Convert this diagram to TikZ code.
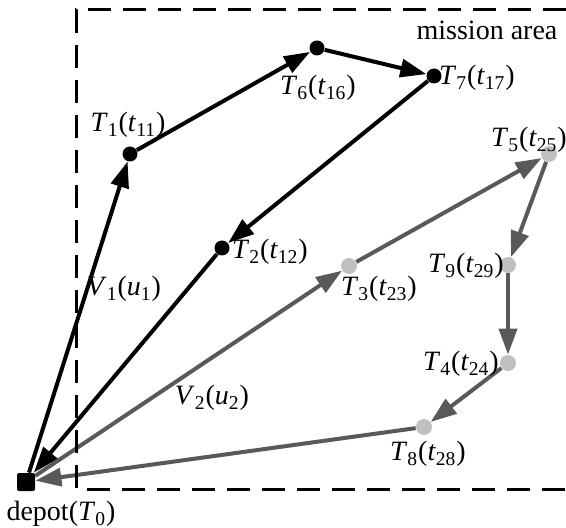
\documentclass[tikz,border=0pt]{standalone}
\usepackage{fontspec}
\setmainfont{Liberation Serif}
\usetikzlibrary{arrows.meta,backgrounds}
\definecolor{edgegray}{HTML}{595959}
\definecolor{dotgray}{HTML}{C0C0C0}
\newcommand\tlab[2]{\textit{T}\textsubscript{#1}(\textit{t}\textsubscript{#2})}
\begin{document}
\begin{tikzpicture}[x=0.5pt,y=-0.5pt,
  bdot/.style={circle,fill=black,inner sep=0,minimum size=7.5pt},
  gdot/.style={circle,fill=dotgray,inner sep=0,minimum size=8pt},
  bedge/.style={line width=2pt,draw=black,-{Triangle[length=13pt,width=9pt]}},
  gedge/.style={line width=2pt,draw=edgegray,-{Triangle[length=13pt,width=9pt]}},
  lab/.style={font=\fontsize{14}{16}\selectfont,inner sep=0},
  area/.style={line width=1.5pt,dash pattern=on 11.5pt off 6pt}]
\useasboundingbox (0,0) rectangle (566,528);
% mission area
\coordinate (tr) at (566,10);
\coordinate (tl) at (76,10);
\coordinate (bl) at (76,489);
\coordinate (br) at (566,489);
\draw[area] (tr) -- (tl) -- (bl) -- (br);
\node[lab] (ma) at (487,30) {mission area};
% nodes
\node[rectangle,fill=black,inner sep=0,minimum size=9pt,rounded corners=1pt] (d0) at (26,482) {};
\node[bdot] (t1) at (130,154) {};
\node[bdot] (t6) at (317,48) {};
\node[bdot] (t7) at (434,76) {};
\node[bdot] (t2) at (222,248) {};
\node[gdot] (t3) at (349,266) {};
\node[gdot] (t5) at (549,154) {};
\node[gdot] (t9) at (508,265) {};
\node[gdot] (t4) at (508,363) {};
\node[gdot] (t8) at (424,427) {};
% labels
\node[lab] (l1) at (128,125) {\tlab{1}{11}};
\node[lab] (l6) at (318,88) {\tlab{6}{16}};
\node[lab] (l7) at (477,78) {\tlab{7}{17}};
\node[lab] (l2) at (270,252) {\tlab{2}{12}};
\node[lab] (l3) at (379,289) {\tlab{3}{23}};
\node[lab] (l5) at (529,140) {\tlab{5}{25}};
\node[lab] (l9) at (466,266) {\tlab{9}{29}};
\node[lab] (l4) at (461,364) {\tlab{4}{24}};
\node[lab] (l8) at (428,454) {\tlab{8}{28}};
\node[lab] (v1) at (124,289) {\textit{V}\textsubscript{1}(\textit{u}\textsubscript{1})};
\node[lab] (v2) at (212,398) {\textit{V}\textsubscript{2}(\textit{u}\textsubscript{2})};
\node[lab] (dl) at (61,514) {depot(\textit{T}\textsubscript{0})};
% edges
\begin{scope}[on background layer]
\draw[bedge] (d0) -- (t1);
\draw[bedge] (t1) -- (t6);
\draw[bedge] (t6) -- (t7);
\draw[bedge] (t7) -- (t2);
\draw[bedge] (t2) -- (d0);
\draw[gedge] (d0) -- (t3);
\draw[gedge] (t3) -- (t5);
\draw[gedge] (t5) -- (t9);
\draw[gedge] (t9) -- (t4);
\draw[gedge] (t4) -- (t8);
\draw[gedge] (t8) -- (d0);
\end{scope}
\end{tikzpicture}
\end{document}
